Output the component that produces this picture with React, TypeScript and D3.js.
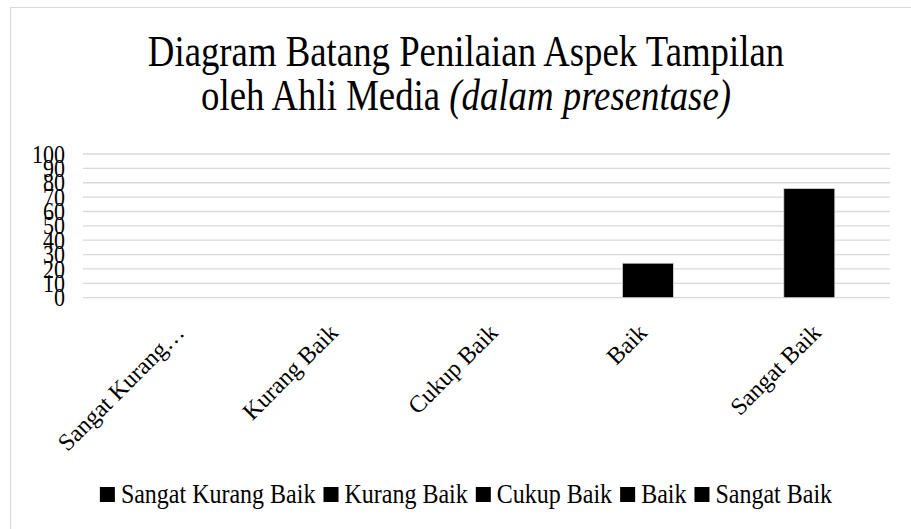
import React from "react";
import * as d3 from "d3";

const categories = ["Sangat Kurang Baik", "Kurang Baik", "Cukup Baik", "Baik", "Sangat Baik"];
const axisLabels = ["Sangat Kurang…", "Kurang Baik", "Cukup Baik", "Baik", "Sangat Baik"];
const values = [0, 0, 0, 24, 76];
const yTicks = [0, 10, 20, 30, 40, 50, 60, 70, 80, 90, 100];
const titleLine1 = "Diagram Batang Penilaian Aspek Tampilan";
const titleLine2a = "oleh Ahli Media ";
const titleLine2b = "(dalam presentase)";

const W = 911;
const H = 529;
const FONT = "'Liberation Serif', 'Times New Roman', serif";
const SY = 1.18;

export default function App() {
  const x = d3.scaleBand<string>().domain(categories).range([83, 890]).paddingInner(0.684).paddingOuter(0.342);
  const y = d3.scaleLinear().domain([0, 100]).range([297.7, 154]);

  const legendItems = categories;
  const legendFont = 24;
  const catFont = 24;
  const canvas = typeof document !== "undefined" ? document.createElement("canvas") : null;
  const ctx = canvas ? canvas.getContext("2d") : null;
  const measure = (s: string, size: number) => {
    if (!ctx) return s.length * size * 0.42;
    ctx.font = `${size}px 'Liberation Serif'`;
    return ctx.measureText(s).width;
  };
  const sq = 15;
  const gapAfterSq = 6;
  const gapItem = 8;
  const widths = legendItems.map((s) => sq + gapAfterSq + measure(s, legendFont));
  const total = d3.sum(widths) + gapItem * (legendItems.length - 1);
  let cursor = 466 - total / 2;
  const legendPos = widths.map((w) => {
    const p = cursor;
    cursor += w + gapItem;
    return p;
  });
  const legendBaseline = 503;

  return (
    <svg width={W} height={H} style={{ position: "absolute", left: 0, top: 0, background: "#fff" }} fontFamily={FONT}>
      <rect x={10.5} y={7.5} width={W + 10} height={H + 10} fill="#fff" stroke="#d9d9d9" strokeWidth={1} />
      <g transform={`translate(466,66) scale(1,${SY})`}>
        <text textAnchor="middle" fontSize={36.8} fill="#000">{titleLine1}</text>
      </g>
      <g transform={`translate(466,110) scale(1,${SY})`}>
        <text textAnchor="middle" fontSize={36.8} fill="#000">
          <tspan>{titleLine2a}</tspan>
          <tspan fontStyle="italic">{titleLine2b}</tspan>
        </text>
      </g>
      {yTicks.map((t) => (
        <line key={t} x1={83} x2={890} y1={y(t)} y2={y(t)} stroke="#d9d9d9" strokeWidth={1.3} />
      ))}
      {yTicks.map((t) => (
        <g key={"l" + t} transform={`translate(65,${y(t)}) scale(1,${SY})`}>
          <text textAnchor="end" dy="0.33em" fontSize={22} fill="#000">{t}</text>
        </g>
      ))}
      {categories.map((c, i) =>
        values[i] > 0 ? (
          <rect key={c} x={x(c)} y={y(values[i])} width={x.bandwidth()} height={y(0) - y(values[i])} fill="#000" stroke="#d9d9d9" strokeWidth={0.8} />
        ) : null
      )}
      {categories.map((c, i) => {
        const cx = (x(c) as number) + x.bandwidth() / 2;
        const w = measure(axisLabels[i], catFont);
        const tx = cx - 13.5 + 0.177 * w;
        return (
          <g key={"c" + c} transform={`translate(${tx},${328}) rotate(-45)`}>
            <text textAnchor="end" dy="0.35em" fontSize={catFont} fill="#000">{axisLabels[i]}</text>
          </g>
        );
      })}
      {legendItems.map((s, i) => (
        <g key={"lg" + s}>
          <rect x={legendPos[i]} y={legendBaseline - 16} width={sq} height={sq} fill="#000" />
          <g transform={`translate(${legendPos[i] + sq + gapAfterSq},${legendBaseline}) scale(1,${SY})`}>
            <text fontSize={legendFont} fill="#000">{s}</text>
          </g>
        </g>
      ))}
    </svg>
  );
}
